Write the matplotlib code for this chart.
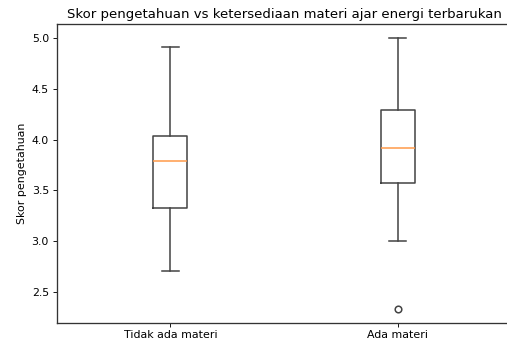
import matplotlib
matplotlib.use('Agg')
from matplotlib import pyplot as plt

# box statistics
groups = ['Tidak ada materi', 'Ada materi']
whislo = [2.71, 3.00]
q1 = [3.33, 3.57]
med = [3.79, 3.915]
q3 = [4.04, 4.29]
whishi = [4.915, 5.00]
fliers = [[], [2.333]]

stats = []
for i in range(len(groups)):
    stats.append({'label': groups[i], 'whislo': whislo[i], 'q1': q1[i], 'med': med[i],
                  'q3': q3[i], 'whishi': whishi[i], 'fliers': fliers[i]})

dpi = 79.2
lc = '#444444'
fig = plt.figure(figsize=(507 / dpi, 344 / dpi), dpi=dpi)
ax = fig.add_axes([56.7 / 507, 21.3 / 344, 454.7 / 507, 298.4 / 344])
ax.bxp(stats, boxprops={'color': lc, 'linewidth': 1.4},
       whiskerprops={'color': lc, 'linewidth': 1.4},
       capprops={'color': lc, 'linewidth': 1.4},
       medianprops={'color': '#ff9a4a', 'linewidth': 1.4},
       flierprops={'markeredgecolor': lc, 'markeredgewidth': 1.4})
for s in ax.spines.values():
    s.set_color('#333333')
    s.set_linewidth(1.2)
ax.set_ylabel('Skor pengetahuan')
ax.set_title('Skor pengetahuan vs ketersediaan materi ajar energi terbarukan')
fig.savefig('out.png', dpi=dpi)
